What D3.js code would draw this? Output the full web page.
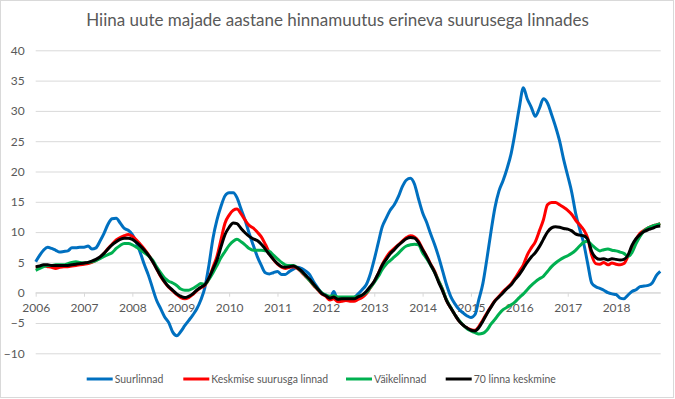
<!DOCTYPE html>
<head>
  <meta charset="utf-8">
  <script src="https://d3js.org/d3.v7.min.js"></script>
  <style>
    body { margin:0; background:#fff; }
    svg { display:block; }
    text { font-family: Lato, "Open Sans", sans-serif; fill:#595959; }
    .grid line { stroke:#d9d9d9; }
    .grid path { display:none; }
    .xaxis path, .xaxis line { stroke:#d9d9d9; }
  </style>
</head>
<body>
  <div class="chart"></div>
  <script>
    // monthly values, Jan 2006 .. Dec 2018
    var startYear = 2006;
    var suurlinnad = [
      5.1, 6.2, 7.0, 7.5, 7.3, 7.0, 6.7, 6.8, 6.9, 7.4, 7.4, 7.5,
      7.5, 7.7, 7.2, 7.4, 8.5, 9.8, 11.3, 12.2, 12.3, 11.5, 10.6, 10.3,
      9.6, 8.2, 6.6, 4.6, 2.9, 0.8, -1.2, -2.6, -4.0, -4.9, -6.5, -7.1,
      -6.4, -5.4, -4.6, -3.7, -2.7, -1.2, 0.8, 4.5, 9.0, 12.0, 14.3, 16.0,
      16.5, 16.5, 15.7, 13.8, 12.0, 9.8, 7.9, 6.0, 4.5, 3.3, 3.1, 3.3,
      3.5, 3.0, 3.0, 3.5, 3.9, 4.2, 4.0, 3.6, 3.0, 1.8, 0.8, -0.1,
      -0.4, -1.0, 0.2, -1.2, -1.1, -0.9, -0.9, -0.8, -0.2, 0.5, 1.3, 3.0,
      5.5, 8.3, 10.8, 12.3, 13.6, 14.5, 15.8, 17.5, 18.6, 18.9, 17.9, 15.5,
      13.2, 11.6, 9.8, 8.0, 6.0, 3.6, 1.3, -0.6, -1.8, -2.7, -3.3, -3.8,
      -4.1, -3.6, -1.2, 1.5, 5.5, 10.0, 14.0, 16.8, 18.5, 20.5, 23.0, 26.5,
      30.5, 33.8, 32.0, 30.6, 29.1, 30.4, 32.0, 31.3, 29.4, 27.4, 25.0, 22.0,
      19.3, 16.5, 13.2, 10.5, 8.2, 4.8, 1.6, 1.0, 0.7, 0.4, 0.0, -0.2,
      -0.3, -0.9, -1.0, -0.4, 0.2, 0.5, 1.0, 1.1, 1.2, 1.6, 2.8, 3.5
    ];
    var keskmised = [
      4.2, 4.3, 4.4, 4.3, 4.2, 4.0, 4.2, 4.3, 4.3, 4.4, 4.5, 4.6,
      4.7, 4.8, 5.0, 5.3, 5.8, 6.5, 7.3, 8.0, 8.7, 9.1, 9.4, 9.6,
      9.3, 8.7, 8.0, 7.2, 6.3, 5.2, 4.0, 2.7, 1.7, 0.9, 0.3, -0.3,
      -0.8, -1.0, -0.8, -0.3, 0.3, 0.8, 1.2, 2.3, 4.2, 6.0, 8.8, 11.5,
      12.8, 13.6, 13.8, 13.0, 12.0, 11.1, 10.7, 10.0, 9.2, 8.0, 6.6, 5.5,
      4.7, 4.2, 4.0, 4.2, 4.3, 4.0, 3.4, 2.7, 2.0, 1.2, 0.5, -0.2,
      -0.6, -1.2, -1.0, -1.5, -1.4, -1.3, -1.4, -1.4, -1.1, -0.8, -0.2, 0.8,
      1.8, 3.2, 4.6, 5.8, 6.7, 7.3, 7.9, 8.5, 9.1, 9.4, 9.2, 8.5,
      7.2, 6.0, 4.8, 3.6, 2.0, 0.5, -1.3, -2.5, -3.6, -4.6, -5.3, -5.8,
      -6.1, -6.2, -5.6, -4.5, -3.4, -2.3, -1.3, -0.6, 0.2, 0.8, 1.5, 2.4,
      3.5, 4.6, 6.2, 7.4, 8.4, 10.2, 12.0, 14.5, 14.9, 14.9, 14.5, 14.1,
      13.6, 12.9, 12.0, 11.2, 10.4, 9.0, 6.2, 4.8, 4.7, 5.0, 4.6, 4.9,
      4.7, 4.6, 4.8, 6.0, 7.5, 8.8, 9.8, 10.3, 10.7, 11.0, 11.2, 11.4
    ];
    var vaikelinnad = [
      3.7, 4.0, 4.3, 4.5, 4.5, 4.6, 4.6, 4.6, 4.8, 5.0, 5.1, 5.0,
      4.9, 5.0, 5.1, 5.3, 5.6, 6.0, 6.3, 6.6, 7.3, 7.8, 8.1, 8.1,
      7.9, 7.5, 7.1, 6.6, 6.1, 5.4, 4.3, 3.3, 2.4, 1.9, 1.6, 1.2,
      0.6, 0.4, 0.4, 0.7, 1.1, 1.5, 1.4, 2.2, 3.3, 4.5, 5.8, 6.8,
      7.8, 8.5, 8.8, 8.4, 7.9, 7.3, 7.0, 7.0, 7.0, 6.9, 6.8, 6.2,
      5.6, 5.0, 4.6, 4.5, 4.5, 4.1, 3.5, 2.8, 2.0, 1.3, 0.6, 0.0,
      -0.4, -0.6, -0.5, -0.7, -0.7, -0.7, -0.7, -0.7, -0.6, -0.4, 0.0, 0.8,
      1.7, 2.7, 3.8, 4.7, 5.3, 5.9, 6.5, 7.2, 7.7, 7.9, 8.0, 7.9,
      6.6, 5.6, 4.6, 3.4, 2.0, 0.5, -1.2, -2.4, -3.6, -4.5, -5.3, -5.9,
      -6.3, -6.6, -6.8, -6.7, -6.2, -5.2, -4.4, -3.5, -2.8, -2.4, -2.0, -1.5,
      -0.8, -0.2, 0.5, 1.2, 1.8, 2.3, 2.7, 3.5, 4.3, 4.9, 5.4, 5.8,
      6.1, 6.5, 7.0, 7.7, 8.3, 8.5, 7.9, 7.3, 6.9, 7.1, 7.2, 7.0,
      6.9, 6.7, 6.5, 6.0, 6.6, 8.1, 9.3, 10.2, 10.7, 11.0, 11.2, 11.4
    ];
    var keskmine70 = [
      4.3, 4.4, 4.6, 4.6, 4.5, 4.5, 4.5, 4.5, 4.5, 4.6, 4.7, 4.8,
      4.9, 5.0, 5.2, 5.5, 5.9, 6.5, 7.2, 7.9, 8.4, 8.8, 9.0, 9.0,
      8.8, 8.3, 7.7, 7.0, 6.2, 5.2, 4.0, 2.8, 1.8, 1.0, 0.4, -0.2,
      -0.6, -0.8, -0.6, -0.2, 0.4, 0.9, 1.3, 2.4, 3.9, 5.4, 7.6, 9.6,
      10.8, 11.5, 11.4, 10.6, 9.9, 9.3, 8.9, 8.6, 8.0, 7.2, 6.3, 5.5,
      4.8, 4.3, 4.2, 4.3, 4.4, 4.1, 3.6, 2.9, 2.2, 1.4, 0.6, -0.1,
      -0.5, -0.9, -0.7, -1.1, -1.0, -1.0, -1.0, -1.0, -0.7, -0.4, 0.2, 1.0,
      1.9, 3.2, 4.5, 5.5, 6.4, 7.1, 7.8, 8.4, 8.9, 9.1, 9.0, 8.3,
      7.1, 5.9, 4.7, 3.4, 1.8, 0.3, -1.3, -2.5, -3.6, -4.6, -5.3, -5.8,
      -6.2, -6.3, -5.8, -4.7, -3.5, -2.4, -1.4, -0.7, 0.0, 0.7, 1.3, 2.2,
      3.0, 4.0, 5.0, 5.9, 6.6, 7.6, 8.8, 10.0, 10.7, 10.9, 10.8, 10.6,
      10.5, 10.2, 9.7, 9.5, 9.4, 8.8, 6.8, 5.8, 5.5, 5.6, 5.4, 5.6,
      5.5, 5.4, 5.5, 6.2, 7.8, 8.9, 9.6, 10.1, 10.4, 10.6, 10.9, 11.0
    ];
    var seriesNames = ["Suurlinnad", "Keskmise suurusga linnad", "Väikelinnad", "70 linna keskmine"];
    var seriesColors = ["#0070c0", "#ff0000", "#00b050", "#000000"];
    var yTicks = [-10, -5, 0, 5, 10, 15, 20, 25, 30, 35, 40];
    var title = "Hiina uute majade aastane hinnamuutus erineva suurusega linnades";

    const W = 675, H = 399;
    const plot = {left: 35.7, right: 660.7, top: 50.3, bottom: 353.3};

    const svg = d3.select(".chart").append("svg")
      .attr("width", W).attr("height", H);

    svg.append("rect")
      .attr("x", 0.5).attr("y", 0.5)
      .attr("width", W - 2).attr("height", H - 2)
      .attr("fill", "#fff").attr("stroke", "#d9d9d9");

    // one year = 48.36 px, Jan 2006 at plot.left
    const x = d3.scaleTime()
      .domain([new Date(startYear, 0, 1), new Date(2019, 0, 1)])
      .range([plot.left, plot.left + 13 * 48.36]);
    const y = d3.scaleLinear()
      .domain([-10, 40])
      .range([plot.bottom, plot.top]);

    svg.append("g")
      .attr("class", "grid")
      .attr("transform", "translate(" + plot.left + ",0)")
      .call(d3.axisLeft(y).tickValues(yTicks)
        .tickSize(-(plot.right - plot.left)).tickPadding(11))
      .selectAll("text")
        .attr("font-size", 12).attr("fill", "#595959")
        .style("font-family", "Lato, sans-serif");

    const years = d3.range(startYear, 2019).map(function(d) { return new Date(d, 0, 1); });
    const xAxis = svg.append("g")
      .attr("class", "xaxis")
      .attr("transform", "translate(0," + y(0) + ")")
      .call(d3.axisBottom(x).tickValues(years)
        .tickFormat(d3.timeFormat("%Y")).tickSize(4).tickPadding(7).tickSizeOuter(0));
    xAxis.select(".domain").attr("d", "M" + plot.left + ",0H" + plot.right);
    xAxis.selectAll("text").attr("font-size", 12).attr("fill", "#595959")
      .style("font-family", "Lato, sans-serif");

    const allSeries = [suurlinnad, keskmised, vaikelinnad, keskmine70];
    const line = d3.line()
      .x(function(d, i) { return x(new Date(startYear, i, 1)); })
      .y(function(d) { return y(d); })
      .curve(d3.curveMonotoneX);

    svg.selectAll(".series")
      .data(allSeries)
      .enter().append("path")
      .attr("class", "series")
      .attr("d", line)
      .attr("fill", "none")
      .attr("stroke", function(d, i) { return seriesColors[i]; })
      .attr("stroke-width", 3)
      .attr("stroke-linejoin", "round");

    const t = svg.append("text")
      .attr("x", W / 2).attr("y", 26)
      .attr("text-anchor", "middle")
      .attr("font-size", 18)
      .text(title);
    // fit the title to the reference width
    var tl = t.node().getComputedTextLength();
    t.attr("font-size", 18 * 503 / tl);

    // legend
    const legendX = [86.7, 183.3, 346, 445.7];
    const legend = svg.selectAll(".leg")
      .data(seriesNames)
      .enter().append("g")
      .attr("class", "leg")
      .attr("transform", function(d, i) { return "translate(" + legendX[i] + ",379)"; });
    legend.append("line")
      .attr("x1", 0).attr("x2", 26)
      .attr("stroke", function(d, i) { return seriesColors[i]; })
      .attr("stroke-width", 3);
    const legText = legend.append("text")
      .attr("x", 28).attr("dy", "0.35em")
      .attr("font-size", 12)
      .text(function(d) { return d; });
    // shrink legend font so the longest label fits its slot (~117 px)
    var ll = legText.filter(function(d, i) { return i == 1; }).node().getComputedTextLength();
    legText.attr("font-size", Math.min(12, 12 * 117 / ll));
  </script>
</body>
